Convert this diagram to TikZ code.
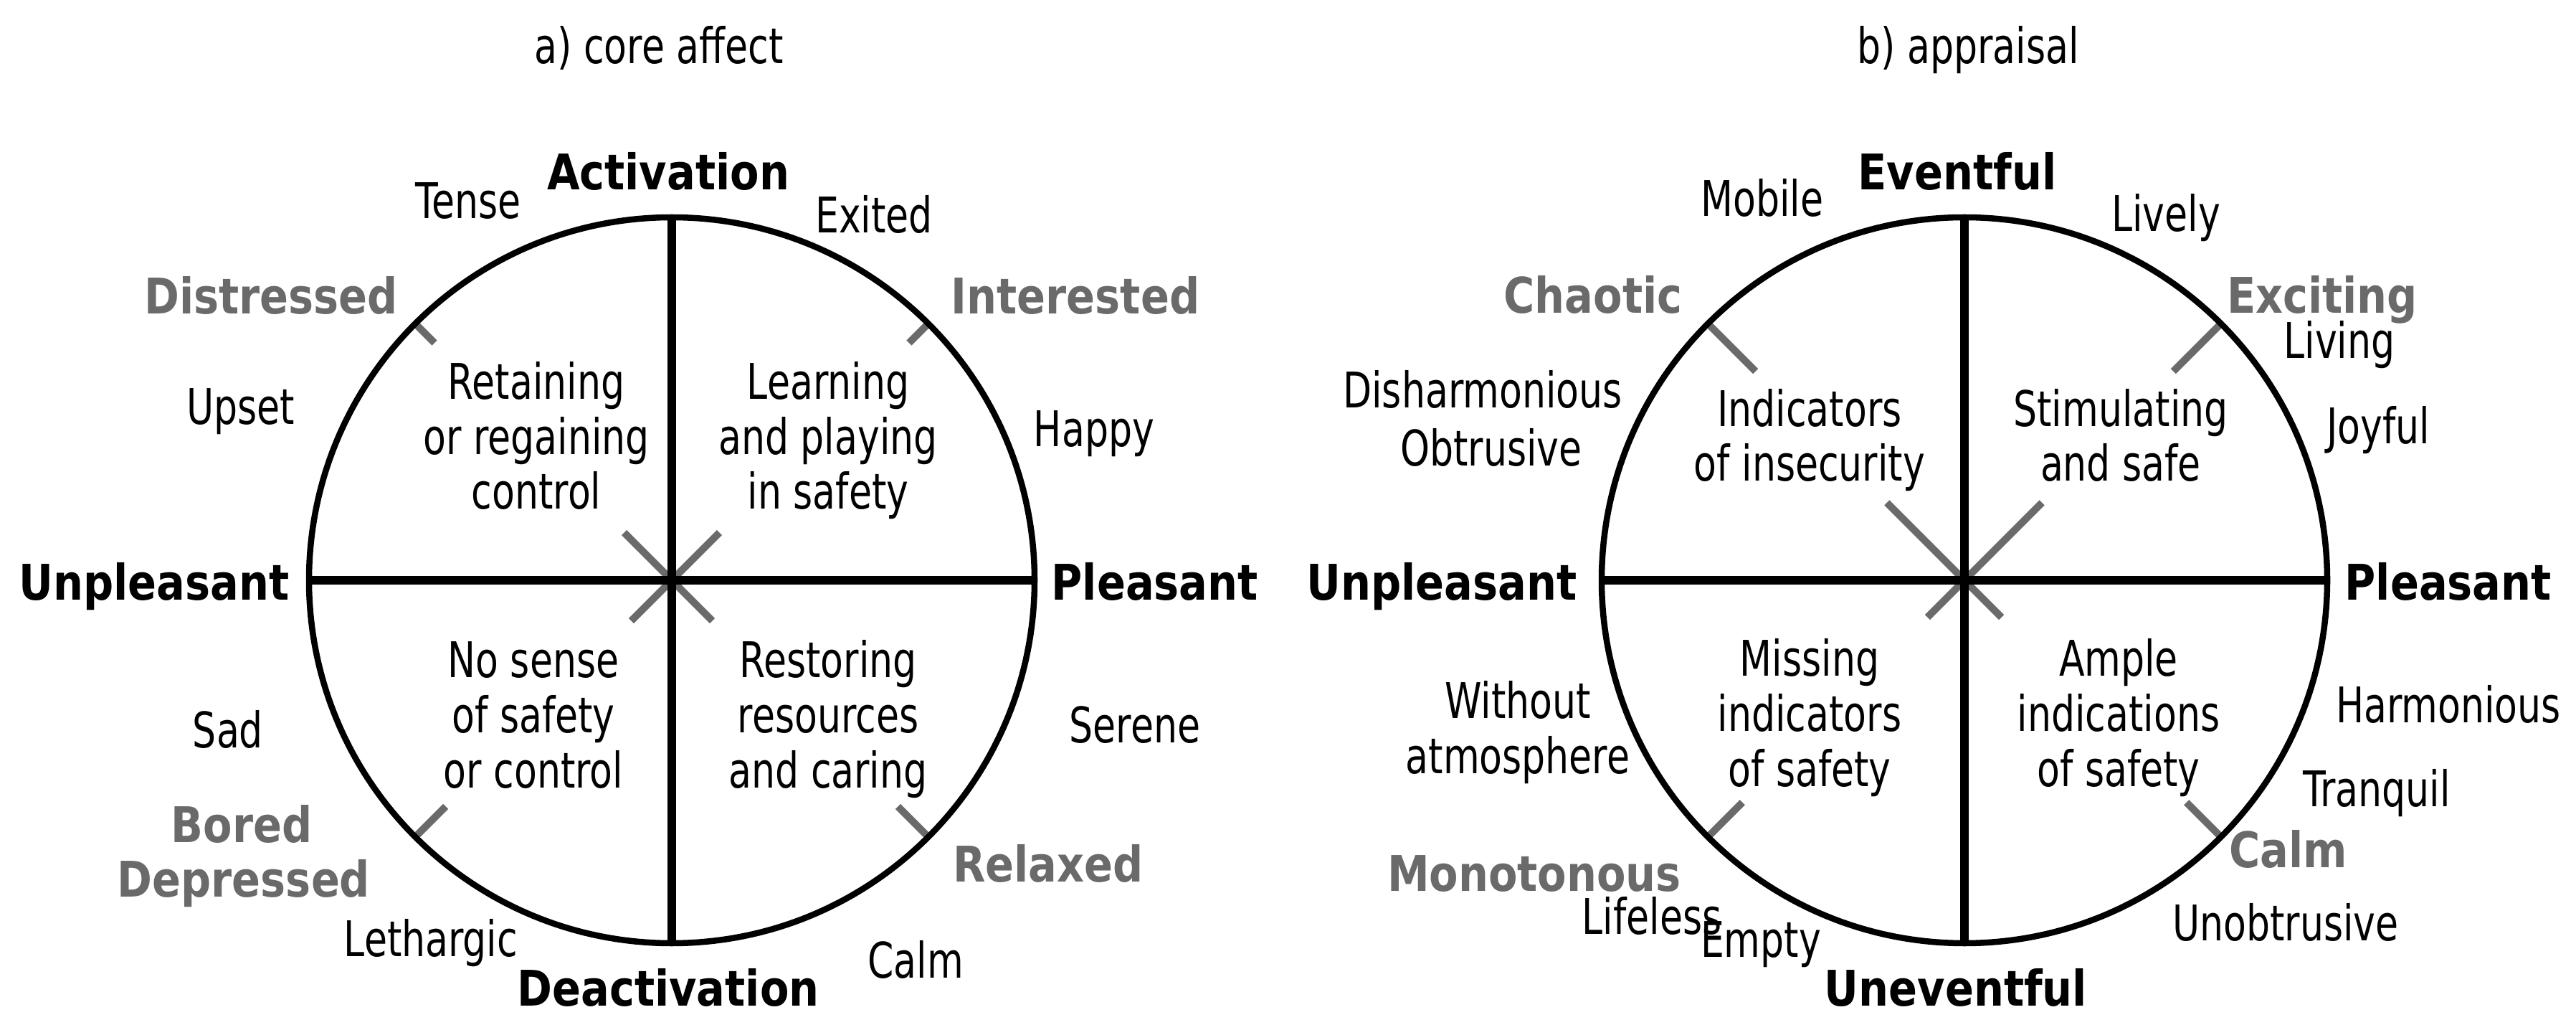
\documentclass[tikz,border=0pt]{standalone}
\usepackage{fontspec}
\setmainfont{DejaVu Sans}[FakeStretch=0.76,BoldFeatures={FakeStretch=0.86}]
\usetikzlibrary{positioning}
\definecolor{keygray}{HTML}{6A6A6A}
\tikzset{
    rim/.style={line width=0.85mm},
    axis line/.style={line width=1.2mm},
    gray tick/.style={keygray,line width=1mm},
    axis label/.style={font=\fontsize{19.5}{23}\selectfont\bfseries,inner sep=0pt},
    mood/.style={font=\fontsize{19.5}{23}\selectfont,inner sep=0pt,anchor=base},
    key mood/.style={mood,font=\fontsize{19.5}{23}\selectfont\bfseries,text=keygray},
    quadrant/.style={mood,align=center,font=\fontsize{19.5}{21.9}\selectfont},
}

\begin{document}
\begin{tikzpicture}
    \useasboundingbox (0,0) rectangle (35.93,14.28);

    \node[mood] (title a) at (9.19,13.39) {a) core affect};
    \node[mood] (title b) at (27.45,13.39) {b) appraisal};

    % core affect
    \begin{scope}[shift={(9.37,6.19)}]
        \coordinate (O) at (0,0);
        \foreach \ang/\rin in {45/4.68,135/4.68,225/4.46,315/4.46}{
            \draw[gray tick] (\ang:5.06) -- (\ang:\rin);
        }
        \foreach \ang/\rin in {45/0.94,135/0.94,225/0.8,315/0.8}{
            \draw[gray tick] (O) -- (\ang:\rin);
        }
        \draw[rim] (O) circle (5.06);
        \draw[axis line] (0,5.06) -- (0,-5.06);
        \draw[axis line] (-5.06,0) -- (5.06,0);

        \node[axis label, anchor=base] (act) at (-0.05,5.44) {Activation};
        \node[axis label, anchor=base] (deact) at (-0.05,-5.93) {Deactivation};
        \node[axis label, anchor=base east] (unpl a) at (-5.33,-0.28) {Unpleasant};
        \node[axis label, anchor=base west] (pl a) at (5.29,-0.28) {Pleasant};

        \node[mood] (tense) at (-2.84,5.04) {Tense};
        \node[mood] (exited) at (2.82,4.84) {Exited};
        \node[key mood] (distressed) at (-5.59,3.71) {Distressed};
        \node[key mood] (interested) at (5.63,3.71) {Interested};
        \node[mood] (upset) at (-6.01,2.17) {Upset};
        \node[mood] (happy) at (5.89,1.86) {Happy};
        \node[mood] (sad) at (-6.19,-2.33) {Sad};
        \node[mood] (serene) at (6.46,-2.26) {Serene};
        \node[key mood] (bored) at (-6.0,-3.65) {Bored};
        \node[key mood] (depressed) at (-5.97,-4.41) {Depressed};
        \node[key mood] (relaxed) at (5.25,-4.20) {Relaxed};
        \node[mood] (lethargic) at (-3.36,-5.24) {Lethargic};
        \node[mood] (calm a) at (3.40,-5.54) {Calm};

        % multi-line: anchor base sits on the last line
        \node[quadrant] (control) at (-1.89,0.99) {Retaining\\or regaining\\control};
        \node[quadrant] (learning) at (2.18,0.99) {Learning\\and playing\\in safety};
        \node[quadrant] (no sense) at (-1.93,-2.89) {No sense\\of safety\\or control};
        \node[quadrant] (restoring) at (2.18,-2.89) {Restoring\\resources\\and caring};
    \end{scope}

    % appraisal
    \begin{scope}[shift={(27.40,6.19)}]
        \coordinate (O) at (0,0);
        \foreach \ang/\rin in {45/4.12,135/4.12,225/4.38,315/4.38}{
            \draw[gray tick] (\ang:5.06) -- (\ang:\rin);
        }
        \foreach \ang/\rin in {45/1.53,135/1.53,225/0.73,315/0.73}{
            \draw[gray tick] (O) -- (\ang:\rin);
        }
        \draw[rim] (O) circle (5.06);
        \draw[axis line] (0,5.06) -- (0,-5.06);
        \draw[axis line] (-5.06,0) -- (5.06,0);

        \node[axis label, anchor=base] (eventful) at (-0.10,5.44) {Eventful};
        \node[axis label, anchor=base] (uneventful) at (-0.12,-5.93) {Uneventful};
        \node[axis label, anchor=base east] (unpl b) at (-5.40,-0.28) {Unpleasant};
        \node[axis label, anchor=base west] (pl b) at (5.30,-0.28) {Pleasant};

        \node[mood] (mobile) at (-2.82,5.07) {Mobile};
        \node[mood] (lively) at (2.81,4.86) {Lively};
        \node[key mood] (chaotic) at (-5.18,3.72) {Chaotic};
        \node[key mood] (exciting) at (4.99,3.72) {Exciting};
        \node[mood] (living) at (5.23,3.09) {Living};
        \node[mood] (joyful) at (5.77,1.90) {Joyful};
        \node[mood] (disharm) at (-6.72,2.40) {Disharmonious};
        \node[mood] (obtrusive) at (-6.60,1.59) {Obtrusive};
        \node[quadrant] (without) at (-6.23,-2.69) {Without\\atmosphere};
        \node[mood] (harmonious) at (6.75,-1.98) {Harmonious};
        \node[mood] (tranquil) at (5.75,-3.15) {Tranquil};
        \node[key mood] (monotonous) at (-6.00,-4.33) {Monotonous};
        \node[mood] (lifeless) at (-4.36,-4.93) {Lifeless};
        \node[mood] (empty) at (-2.84,-5.25) {Empty};
        \node[key mood] (calm b) at (4.52,-4.00) {Calm};
        \node[mood] (unobtrusive) at (4.48,-5.02) {Unobtrusive};

        \node[quadrant] (insecurity) at (-2.16,1.38) {Indicators\\of insecurity};
        \node[quadrant] (stimulating) at (2.18,1.38) {Stimulating\\and safe};
        \node[quadrant] (missing) at (-2.16,-2.87) {Missing\\indicators\\of safety};
        \node[quadrant] (ample) at (2.15,-2.87) {Ample\\indications\\of safety};
    \end{scope}
\end{tikzpicture}
\end{document}
